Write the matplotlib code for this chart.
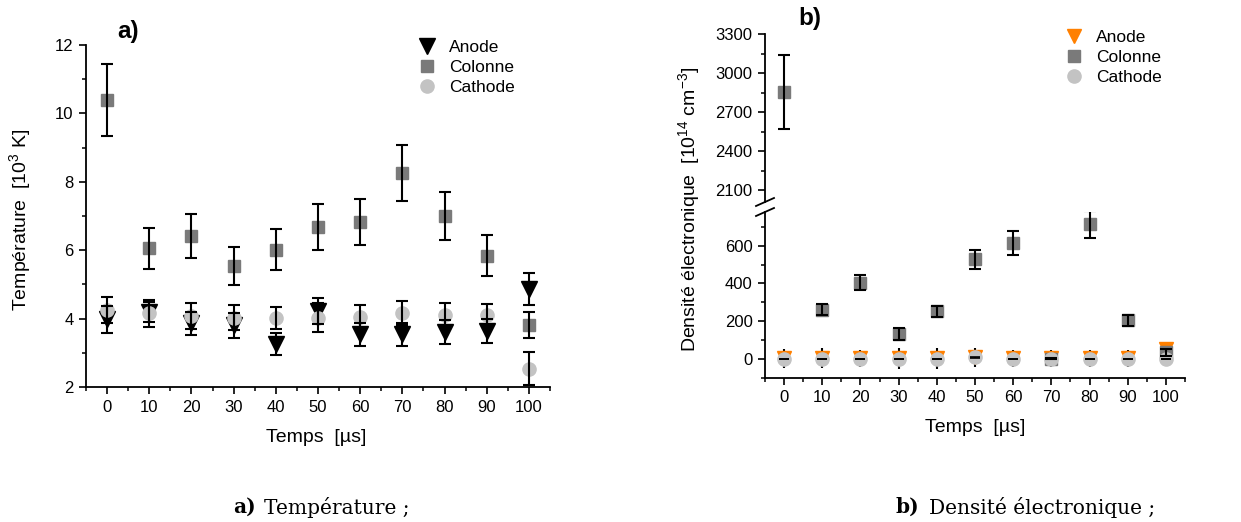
import matplotlib
matplotlib.use('Agg')
import matplotlib.pyplot as plt
from matplotlib.ticker import MultipleLocator, FixedLocator
from matplotlib.lines import Line2D

plt.rcParams['font.family'] = ['Liberation Sans', 'DejaVu Sans']
plt.rcParams['mathtext.fontset'] = 'custom'
plt.rcParams['mathtext.rm'] = 'Liberation Sans'
plt.rcParams['mathtext.it'] = 'Liberation Sans:italic'

# ---------------- data ----------------
temps = [0, 10, 20, 30, 40, 50, 60, 70, 80, 90, 100]

# a) Temperature [10^3 K]
a_anode = [3.98, 4.20, 3.86, 3.80, 3.26, 4.22, 3.54, 3.54, 3.60, 3.63, 4.87]
a_anode_err = [0.40, 0.30, 0.34, 0.36, 0.33, 0.38, 0.34, 0.33, 0.35, 0.35, 0.47]
a_colonne = [10.40, 6.05, 6.42, 5.53, 6.02, 6.68, 6.83, 8.27, 7.00, 5.84, 3.81]
a_colonne_err = [1.05, 0.60, 0.64, 0.55, 0.60, 0.67, 0.68, 0.82, 0.70, 0.59, 0.37]
a_cathode = [4.25, 4.15, 4.08, 4.03, 4.02, 4.03, 4.06, 4.16, 4.10, 4.10, 2.53]
a_cathode_err = [0.39, 0.40, 0.37, 0.37, 0.33, 0.42, 0.34, 0.35, 0.35, 0.33, 0.48]

# b) Electron density [10^14 cm^-3]
b_anode = [5, 5, 5, 5, 5, 10, 5, 5, 5, 5, 55]
b_anode_err = [50, 52, 45, 55, 55, 50, 45, 45, 45, 45, 35]
b_colonne = [2852, 262, 405, 131, 253, 527, 613, 2, 712, 205, 35]
b_colonne_err = [285, 29, 42, 31, 29, 52, 63, 3, 70, 29, 20]
b_cathode = [0, 0, 0, 0, 0, 10, 0, 0, 0, 0, 0]
b_cathode_err = [2, 2, 2, 2, 2, 3, 2, 2, 2, 2, 2]

labels = ['Anode', 'Colonne', 'Cathode']

# ---------------- style ----------------
C_COL = '#7a7a7a'
C_CAT = '#c3c3c3'
C_AN_A = 'black'
C_AN_B = '#ff8000'

W, H = 1241, 522
fig = plt.figure(figsize=(W / 100, H / 100), dpi=100)


def fax(l, t, r, b):
    return fig.add_axes([l / W, 1 - b / H, (r - l) / W, (b - t) / H])


def style(ax):
    for s in ['top', 'right']:
        ax.spines[s].set_visible(False)
    ax.spines['left'].set_linewidth(1.3)
    ax.spines['bottom'].set_linewidth(1.3)
    ax.tick_params(which='major', direction='out', length=5, width=1.2,
                   labelsize=12, pad=4)
    ax.tick_params(which='minor', direction='out', length=3, width=1.1)
    ax.set_facecolor('none')


ekw = dict(fmt='none', ecolor='black', elinewidth=1.5, capsize=4.5,
           capthick=1.5, zorder=3)

# ---------------- panel a ----------------
axa = fax(86, 45, 550, 387)
style(axa)
axa.plot(temps, a_anode, ls='none', marker='v', ms=11, color=C_AN_A, zorder=2)
axa.plot(temps, a_colonne, ls='none', marker='s', ms=9, color=C_COL, zorder=2.1)
axa.plot(temps, a_cathode, ls='none', marker='o', ms=9.5, color=C_CAT, zorder=2.2)
axa.errorbar(temps, a_anode, yerr=a_anode_err, **ekw)
axa.errorbar(temps, a_colonne, yerr=a_colonne_err, **ekw)
axa.errorbar(temps, a_cathode, yerr=a_cathode_err, **ekw)
axa.set_xlim(-5, 105)
axa.set_ylim(2, 12)
axa.xaxis.set_major_locator(MultipleLocator(10))
axa.xaxis.set_minor_locator(MultipleLocator(5))
axa.yaxis.set_major_locator(MultipleLocator(2))
axa.yaxis.set_minor_locator(MultipleLocator(1))
for sp in axa.spines.values():
    sp.set_clip_on(False)

fig.text(20 / W, 1 - 220 / H, 'Température  [10$^{3}$ K]', rotation=90,
         ha='center', va='center', fontsize=14)
fig.text(316 / W, 1 - 438 / H, 'Temps  [µs]', ha='center', va='center', fontsize=14)
fig.text(128 / W, 1 - 31 / H, 'a)', ha='center', va='center', fontsize=17.5, fontweight='bold')

hA = [Line2D([], [], ls='none', marker='v', ms=11, color=C_AN_A),
      Line2D([], [], ls='none', marker='s', ms=9, color=C_COL),
      Line2D([], [], ls='none', marker='o', ms=9.5, color=C_CAT)]
fig.legend(hA, labels, loc='upper left', bbox_to_anchor=(418 / W, 1 - 40 / H),
           frameon=False, fontsize=12.5, handlelength=1.0, handletextpad=0.8,
           labelspacing=0.28, borderaxespad=0, borderpad=0)

# ---------------- panel b ----------------
axb_lo = fax(765, 212, 1185, 378)
axb_hi = fax(765, 34, 1185, 202)
for ax in (axb_lo, axb_hi):
    style(ax)
    ax.errorbar(temps, b_anode, yerr=b_anode_err, fmt='none', ecolor='black',
                elinewidth=1.5, capsize=0, zorder=1.9)
    ax.plot(temps, b_anode, ls='none', marker='v', ms=10.5, color=C_AN_B, zorder=2)
    ax.plot(temps, b_colonne, ls='none', marker='s', ms=8.5, color=C_COL, zorder=2.1)
    ax.plot(temps, b_cathode, ls='none', marker='o', ms=9.5, color=C_CAT, zorder=2.2)
    ax.errorbar(temps, b_colonne, yerr=b_colonne_err, **ekw)
    ax.errorbar(temps, b_cathode, yerr=b_cathode_err, fmt='none', ecolor='black',
                elinewidth=1.2, capsize=3.5, capthick=1.2, zorder=3)
    ax.set_xlim(-5, 105)
    ax.xaxis.set_major_locator(MultipleLocator(10))
    ax.xaxis.set_minor_locator(MultipleLocator(5))
axb_lo.set_ylim(-100, 778)
axb_lo.yaxis.set_major_locator(FixedLocator([0, 200, 400, 600]))
axb_lo.yaxis.set_minor_locator(FixedLocator([-100, 100, 300, 500, 700]))
axb_hi.set_ylim(2008, 3300)
axb_hi.yaxis.set_major_locator(MultipleLocator(300))
axb_hi.yaxis.set_minor_locator(MultipleLocator(150))
axb_hi.spines['bottom'].set_visible(False)
axb_hi.tick_params(axis='x', which='both', bottom=False, labelbottom=False)
for sp in list(axb_lo.spines.values()) + list(axb_hi.spines.values()):
    sp.set_clip_on(False)

# break marks on the left spine
for yb in (202, 212):
    x0 = 765
    fig.add_artist(Line2D([(x0 - 9) / W, (x0 + 9) / W],
                          [1 - (yb + 4) / H, 1 - (yb - 4) / H],
                          color='black', lw=1.3))

fig.text(689 / W, 1 - 209 / H, 'Densité électronique  [10$^{14}$ cm$^{-3}$]',
         rotation=90, ha='center', va='center', fontsize=14)
fig.text(975 / W, 1 - 428 / H, 'Temps  [µs]', ha='center', va='center', fontsize=14)
fig.text(810 / W, 1 - 18 / H, 'b)', ha='center', va='center', fontsize=17.5, fontweight='bold')

hB = [Line2D([], [], ls='none', marker='v', ms=10.5, color=C_AN_B),
      Line2D([], [], ls='none', marker='s', ms=8.5, color=C_COL),
      Line2D([], [], ls='none', marker='o', ms=9.5, color=C_CAT)]
fig.legend(hB, labels, loc='upper left', bbox_to_anchor=(1065 / W, 1 - 30 / H),
           frameon=False, fontsize=12.5, handlelength=1.0, handletextpad=0.8,
           labelspacing=0.28, borderaxespad=0, borderpad=0)

# ---------------- captions ----------------
cap_font = 'DejaVu Serif'
fig.text(233 / W, 1 - 507 / H, 'a)', ha='left', va='center', fontsize=14.5,
         fontweight='bold', family=cap_font)
fig.text(264 / W, 1 - 507 / H, 'Température ;', ha='left', va='center', fontsize=14.5,
         family=cap_font)
fig.text(895 / W, 1 - 507 / H, 'b)', ha='left', va='center', fontsize=14.5,
         fontweight='bold', family=cap_font)
fig.text(929 / W, 1 - 507 / H, 'Densité électronique ;', ha='left', va='center', fontsize=14.5,
         family=cap_font)

fig.savefig('out.png', dpi=100)
